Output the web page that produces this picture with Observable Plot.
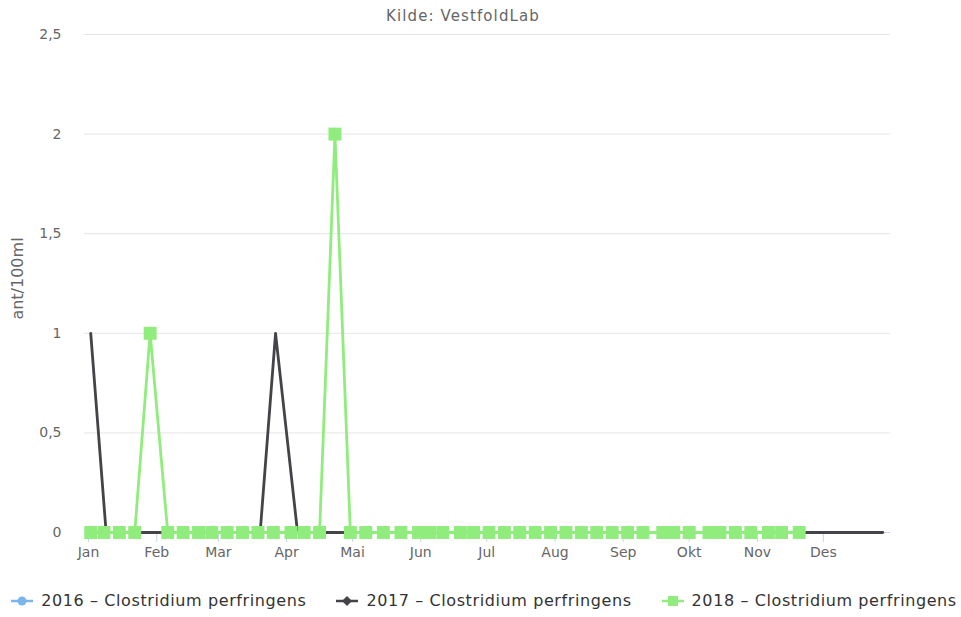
<!DOCTYPE html>
<html><head><meta charset="utf-8">
<script src="https://cdn.jsdelivr.net/npm/d3@7"></script>
<script src="https://cdn.jsdelivr.net/npm/@observablehq/plot@0.6"></script>
<style>
body{margin:0;background:#fff;font-family:"DejaVu Sans",sans-serif;}
#wrap{position:relative;width:961px;height:617px;overflow:hidden;}
#title{position:absolute;top:7px;left:0;width:926px;text-align:center;font-size:15px;letter-spacing:1.1px;color:#666;}
#chart{position:absolute;top:0;left:0;}
#legend{position:absolute;top:583px;left:0;width:968px;height:35px;display:flex;justify-content:center;align-items:center;gap:30px;font-size:16px;letter-spacing:0.6px;color:#333;}
.item{display:flex;align-items:center;white-space:nowrap;}
.item svg{margin-right:8px;}
</style></head><body>
<div id="wrap">
<div id="chart"></div>
<div id="title"></div>
<div id="legend"></div>
</div>
<script>
const titleText = "Kilde: VestfoldLab";
const yLabel = "ant/100ml";
const monthNames = ["Jan","Feb","Mar","Apr","Mai","Jun","Jul","Aug","Sep","Okt","Nov","Des"];
const yTicks = [0, 0.5, 1, 1.5, 2, 2.5];
const seriesNames = ["2016 - Clostridium perfringens","2017 - Clostridium perfringens","2018 - Clostridium perfringens"];
const seriesColors = ["#7cb5ec","#434348","#90ed7d"];

// 2016: no visible data
const dates2016 = [];
const values2016 = [];

// 2017 (dark line, vertices as visible)
const dates2017 = ["2018-01-02","2018-01-09","2018-03-20","2018-03-27","2018-04-06","2018-12-28"];
const values2017 = [1,0,0,1,0,0];

// 2018 (green, weekly samples)
const dates2018 = ["2018-01-02","2018-01-08","2018-01-15","2018-01-22","2018-01-29","2018-02-06","2018-02-13","2018-02-20","2018-02-26",
"2018-03-05","2018-03-12","2018-03-19","2018-03-26","2018-04-03","2018-04-09","2018-04-16","2018-04-23","2018-04-30",
"2018-05-07","2018-05-15","2018-05-23","2018-05-31","2018-06-05","2018-06-11","2018-06-19","2018-06-25",
"2018-07-02","2018-07-09","2018-07-16","2018-07-23","2018-07-30","2018-08-06","2018-08-13","2018-08-20","2018-08-27",
"2018-09-03","2018-09-10","2018-09-19","2018-09-24","2018-10-01","2018-10-10","2018-10-15","2018-10-22","2018-10-29",
"2018-11-06","2018-11-12","2018-11-20"];
const values2018 = [0,0,0,0,1,0,0,0,0,
0,0,0,0,0,0,0,2,0,
0,0,0,0,0,0,0,0,
0,0,0,0,0,0,0,0,0,
0,0,0,0,0,0,0,0,0,
0,0,0];

const xDomain = ["2017-12-30T04:00:00Z","2018-12-31T12:00:00Z"];
const monthTicks = d3.utcMonths(new Date("2018-01-01T00:00:00Z"), new Date("2018-12-02T00:00:00Z"));

const toRows = (ds, vs) => ds.map((d, i) => ({date: new Date(d + "T00:00:00Z"), value: vs[i]}));
const s2017 = toRows(dates2017, values2017);
const s2018 = toRows(dates2018, values2018);

const fmt = d => String(d).replace(".", ",");

const chart = Plot.plot({
  width: 961,
  height: 582,
  marginTop: 34,
  marginBottom: 50,
  marginLeft: 84,
  marginRight: 71,
  style: {fontFamily: "DejaVu Sans, sans-serif", background: "#fff"},
  x: {type: "utc", domain: xDomain.map(d => new Date(d))},
  y: {domain: [0, 2.5]},
  marks: [
    Plot.gridY(yTicks, {stroke: "#e6e6e6", strokeOpacity: 1, strokeWidth: 1}),
    Plot.axisY(yTicks, {tickSize: 0, tickPadding: 23, tickFormat: fmt, fill: "#666", fontSize: 14, letterSpacing: 0.5, label: null}),
    Plot.ruleY([0], {stroke: "#ccd6eb", strokeWidth: 1}),
    Plot.axisX(monthTicks, {tickSize: 10, tickPadding: 5, stroke: "#ccd6eb", strokeOpacity: 1, fill: "#666", fontSize: 14, letterSpacing: 0.6,
      tickFormat: d => monthNames[d.getUTCMonth()], label: null}),
    Plot.text([yLabel], {frameAnchor: "left", rotate: -90, dx: -67, dy: -5, fill: "#666", fontSize: 16, letterSpacing: 1, textAnchor: "middle"}),
    Plot.line(s2017, {x: "date", y: "value", stroke: seriesColors[1], strokeWidth: 2.8, curve: "linear"}),
    Plot.line(s2018, {x: "date", y: "value", stroke: seriesColors[2], strokeWidth: 2.8, curve: "linear"}),
    Plot.dot(s2018, {x: "date", y: "value", symbol: "square", r: 7.3, fill: seriesColors[2], stroke: null})
  ]
});
document.getElementById("chart").appendChild(chart);
document.getElementById("title").textContent = titleText;

const legend = document.getElementById("legend");
const symbols = ["circle","diamond","square"];
seriesNames.forEach((name, i) => {
  const item = document.createElement("div");
  item.className = "item";
  const c = seriesColors[i];
  let marker;
  if (symbols[i] === "circle") marker = `<circle cx="11" cy="7" r="4.5" fill="${c}"/>`;
  else if (symbols[i] === "diamond") marker = `<path d="M11 2 L16 7 L11 12 L6 7 Z" fill="${c}"/>`;
  else marker = `<rect x="6" y="2" width="10" height="10" fill="${c}"/>`;
  item.innerHTML = `<svg width="22" height="14"><line x1="0" y1="7" x2="22" y2="7" stroke="${c}" stroke-width="2.5"/>${marker}</svg><span>${name.replace(" - ", " \u2013 ")}</span>`;
  legend.appendChild(item);
});
</script>
</body></html>
